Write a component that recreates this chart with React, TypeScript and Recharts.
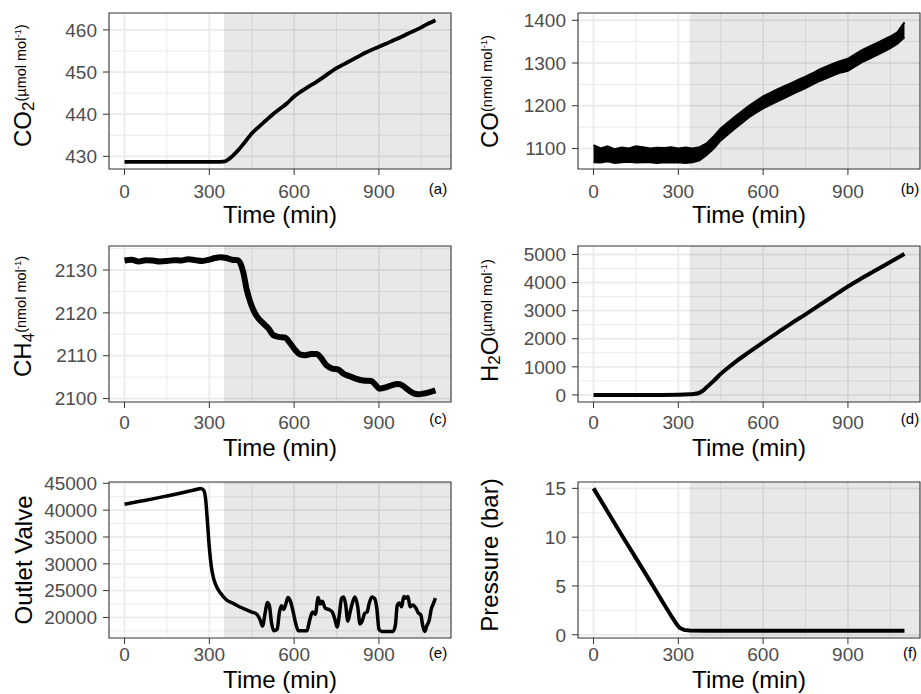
import React from "react";
import {
  ComposedChart,
  Line,
  Area,
  XAxis,
  YAxis,
  CartesianGrid,
  ReferenceArea,
} from "recharts";

const FONT = '"Liberation Sans", Arial, Helvetica, sans-serif';

const timeTicks = [0, 300, 600, 900];
const timeMinor = [150, 450, 750, 1050];
const X_DOMAIN: [number, number] = [-55, 1155];

// (a) CO2, umol/mol
const co2Time = [0, 100, 200, 300, 340, 355, 370, 385, 400, 425, 450, 475, 500, 525, 550, 575, 600, 625, 650, 675, 700, 725, 750, 775, 800, 825, 850, 875, 900, 925, 950, 975, 1000, 1025, 1050, 1075, 1100];
const co2Value = [428.7, 428.7, 428.7, 428.7, 428.7, 428.8, 429.4, 430.3, 431.3, 433.3, 435.4, 437.0, 438.5, 440.0, 441.3, 442.6, 444.2, 445.4, 446.5, 447.5, 448.6, 449.8, 450.9, 451.8, 452.7, 453.6, 454.5, 455.3, 456.0, 456.7, 457.5, 458.2, 459.0, 459.8, 460.6, 461.5, 462.3];

// (b) CO, nmol/mol - scatter band, low / high edge
const coTime = [0, 25, 50, 75, 100, 125, 150, 175, 200, 225, 250, 275, 300, 325, 350, 375, 400, 425, 450, 475, 500, 525, 550, 575, 600, 625, 650, 675, 700, 725, 750, 775, 800, 825, 850, 875, 900, 925, 950, 975, 1000, 1025, 1050, 1075, 1100];
const coLow = [1068, 1067, 1070, 1066, 1068, 1069, 1067, 1068, 1068, 1066, 1068, 1067, 1068, 1066, 1068, 1072, 1085, 1100, 1119, 1133, 1147, 1160, 1173, 1184, 1194, 1202, 1210, 1218, 1226, 1234, 1241, 1250, 1258, 1265, 1272, 1278, 1282, 1292, 1302, 1310, 1318, 1326, 1335, 1345, 1360];
const coHigh = [1108, 1100, 1105, 1098, 1102, 1100, 1105, 1103, 1100, 1102, 1101, 1103, 1100, 1102, 1100, 1103, 1112, 1128, 1147, 1161, 1174, 1187, 1200, 1211, 1222, 1230, 1238, 1246, 1253, 1261, 1268, 1276, 1285, 1292, 1299, 1305, 1310, 1320, 1330, 1338, 1346, 1354, 1362, 1372, 1395];

// (c) CH4, nmol/mol
const ch4Time = [0, 25, 50, 75, 100, 125, 150, 175, 200, 225, 250, 275, 300, 320, 340, 360, 380, 400, 410, 420, 432, 445, 455, 470, 490, 510, 526, 545, 568, 585, 603, 620, 640, 660, 680, 695, 714, 735, 755, 775, 797, 820, 844, 873, 888, 902, 925, 945, 967, 985, 1000, 1020, 1040, 1060, 1080, 1100];
const ch4Value = [2132.2, 2132.4, 2132.0, 2132.3, 2132.2, 2132.0, 2132.1, 2132.3, 2132.2, 2132.5, 2132.3, 2132.1, 2132.4, 2132.8, 2133.0, 2132.8, 2132.4, 2132.3, 2131.5, 2129.5, 2125.5, 2122.5, 2120.8, 2119.0, 2117.6, 2116.3, 2114.8, 2114.4, 2114.2, 2113.0, 2111.4, 2110.3, 2110.1, 2110.4, 2110.4, 2109.5, 2107.8, 2107.0, 2106.8, 2105.8, 2105.2, 2104.6, 2104.2, 2104.1, 2103.2, 2102.3, 2102.6, 2103.1, 2103.4, 2103.0, 2102.2, 2101.3, 2101.0, 2101.2, 2101.5, 2101.9];

// (d) H2O, umol/mol
const h2oTime = [0, 100, 200, 300, 340, 355, 370, 385, 400, 425, 450, 475, 500, 550, 600, 650, 700, 750, 800, 850, 900, 950, 1000, 1050, 1100];
const h2oValue = [0, 0, 0, 5, 20, 35, 60, 140, 270, 500, 750, 960, 1160, 1520, 1870, 2210, 2550, 2870, 3200, 3530, 3860, 4160, 4450, 4730, 5020];

// (e) outlet valve
const valveTime = [0, 50, 100, 150, 200, 250, 270, 280, 287, 293, 300, 307, 315, 325, 340, 360, 385, 410, 432, 450, 468, 480, 488, 498, 505, 512, 520, 528, 540, 548, 555, 562, 570, 578, 587, 596, 605, 615, 630, 645, 655, 665, 675, 685, 692, 700, 710, 722, 735, 745, 752, 760, 768, 775, 782, 790, 798, 805, 815, 825, 833, 840, 850, 858, 865, 875, 885, 893, 900, 910, 930, 950, 958, 965, 972, 980, 988, 995, 1003, 1010, 1020, 1030, 1040, 1048, 1055, 1062, 1070, 1078, 1085, 1092, 1100];
const valveValue = [41100, 41600, 42100, 42650, 43200, 43800, 44050, 43700, 42000, 38000, 33000, 29500, 27300, 25800, 24500, 23300, 22600, 21900, 21400, 21000, 20600, 19500, 18400, 21000, 22800, 22300, 19000, 17500, 17800, 21000, 22200, 21500, 22400, 23700, 23000, 21200, 19000, 17500, 17500, 17500, 19500, 21000, 20600, 23700, 22500, 23000, 21700, 21500, 21000, 19500, 18200, 20500, 23600, 23800, 22500, 19300, 21000, 22500, 23800, 22000, 18800, 19200, 20800, 21000, 22500, 23800, 23500, 21500, 17800, 17400, 17400, 17400, 18500, 22300, 22700, 22000, 23900, 23600, 23900, 22000, 22300, 21800, 20800, 20500, 18500, 17400, 18500, 19500, 21500, 22500, 23600];

// (f) pressure, bar
const pressureTime = [0, 50, 100, 150, 200, 250, 280, 295, 305, 320, 340, 400, 600, 800, 1000, 1100];
const pressureValue = [15.0, 12.6, 10.2, 7.85, 5.5, 3.1, 1.7, 1.05, 0.7, 0.5, 0.43, 0.4, 0.4, 0.4, 0.4, 0.4];

const zip = (ts: number[], vs: number[]) => ts.map((t, i) => ({ t, v: vs[i] }));
const coData = coTime.map((t, i) => ({ t, band: [coLow[i], coHigh[i]] }));

const rot = (x: number, y: number) => `rotate(-90 ${x} ${y})`;

// per-row placement of the x-axis texts (the bottom row sits a bit tighter)
const ROW_TOP = [0, 233, 469];
const ROW_TICK_MARGIN = [10, 8, 4];
const ROW_TITLE_Y = [222.5, 222.5, 218.5];
const ROW_TAG_Y = [194, 191, 189];

function ChemTitle({ x, y, parts, unit }: { x: number; y: number; parts: [string, boolean][]; unit: string }) {
  // parts: [text, isSubscript]
  let shift = 0;
  const spans = parts.map(([s, sub], i) => {
    const dy = sub ? 2.5 - shift : -shift;
    shift = sub ? 2.5 : 0;
    return (
      <tspan key={i} fontSize={sub ? 17 : 24} dy={dy}>
        {s}
      </tspan>
    );
  });
  return (
    <text x={x} y={y} transform={rot(x, y)} fill="#000" fontFamily={FONT} fontSize={24}>
      {spans}
      <tspan fontSize={14.5} dy={-5.5 - shift}>{`(${unit} mol`}</tspan>
      <tspan fontSize={9.5} dy={-5}>-1</tspan>
      <tspan fontSize={14.5} dy={5}>)</tspan>
    </text>
  );
}

type PanelProps = {
  col: number;
  row: number;
  data: any[];
  yDomain: [number, number];
  yTicks: number[];
  yMinor: number[];
  shadeFrom: number;
  tag: string;
  title: React.ReactNode;
  children: React.ReactNode;
};

function Panel({ col, row, data, yDomain, yTicks, yMinor, shadeFrom, tag, title, children }: PanelProps) {
  const left = col === 0 ? 0 : 460;
  const width = col === 0 ? 460 : 461;
  const yAxisWidth = col === 0 ? 109 : 118;
  const marginRight = col === 0 ? 9 : 1;
  const plotCenter = (yAxisWidth + width - marginRight) / 2;
  const tagX = col === 0 ? 438 : 450;

  const xLabel = () => (
    <g>
      <text x={plotCenter} y={ROW_TITLE_Y[row]} textAnchor="middle" fontSize={24} fill="#000" fontFamily={FONT}>
        Time (min)
      </text>
      <text x={tagX} y={ROW_TAG_Y[row]} textAnchor="middle" fontSize={15} fill="#000" fontFamily={FONT}>
        {tag}
      </text>
    </g>
  );

  return (
    <div style={{ position: "absolute", left, top: ROW_TOP[row] }}>
      <ComposedChart
        width={width}
        height={230}
        data={data}
        margin={{ top: 13, right: marginRight, bottom: 0, left: 0 }}
      >
        <CartesianGrid verticalValues={timeMinor} horizontalValues={yMinor} stroke="#EBEBEB" strokeWidth={1} />
        <CartesianGrid verticalValues={timeTicks} horizontalValues={yTicks} stroke="#EBEBEB" strokeWidth={1.8} />
        <XAxis
          type="number"
          dataKey="t"
          domain={X_DOMAIN}
          ticks={timeTicks}
          interval={0}
          allowDataOverflow
          height={61}
          axisLine={false}
          tickLine={{ stroke: "#333333" }}
          tickSize={6}
          tickMargin={ROW_TICK_MARGIN[row]}
          tick={{ fill: "#4D4D4D", fontSize: 19, fontFamily: FONT }}
          label={{ content: xLabel }}
        />
        <YAxis
          type="number"
          domain={yDomain}
          ticks={yTicks}
          interval={0}
          allowDataOverflow
          width={yAxisWidth}
          axisLine={false}
          tickLine={{ stroke: "#333333" }}
          tickSize={6}
          tickMargin={6}
          tick={{ fill: "#4D4D4D", fontSize: 19, fontFamily: FONT }}
          label={{ content: () => title }}
        />
        <ReferenceArea x1={shadeFrom} x2={X_DOMAIN[1]} fill="#000" fillOpacity={0.09} stroke="none" />
        {children}
        <ReferenceArea x1={X_DOMAIN[0]} x2={X_DOMAIN[1]} fill="none" stroke="#333333" strokeWidth={1.1} />
      </ComposedChart>
    </div>
  );
}

export default function App() {
  return (
    <div
      style={{
        position: "absolute",
        left: 0,
        top: 0,
        width: 921,
        height: 694,
        background: "#fff",
        fontFamily: FONT,
        overflow: "hidden",
      }}
    >
      <Panel
        col={0}
        row={0}
        data={zip(co2Time, co2Value)}
        yDomain={[427.0, 464.0]}
        yTicks={[430, 440, 450, 460]}
        yMinor={[435, 445, 455]}
        shadeFrom={352}
        tag="(a)"
        title={<ChemTitle x={31} y={147} parts={[["CO", false], ["2", true]]} unit="µmol" />}
      >
        <Line type="monotone" dataKey="v" stroke="#000" strokeWidth={3.8} dot={false} isAnimationActive={false} />
      </Panel>
      <Panel
        col={1}
        row={0}
        data={coData}
        yDomain={[1052, 1417]}
        yTicks={[1100, 1200, 1300, 1400]}
        yMinor={[1150, 1250, 1350]}
        shadeFrom={340}
        tag="(b)"
        title={<ChemTitle x={37.5} y={148} parts={[["CO", false]]} unit="nmol" />}
      >
        <Area
          type="linear"
          dataKey="band"
          stroke="#000"
          strokeWidth={2}
          fill="#000"
          fillOpacity={1}
          dot={false}
          isAnimationActive={false}
        />
      </Panel>
      <Panel
        col={0}
        row={1}
        data={zip(ch4Time, ch4Value)}
        yDomain={[2099.2, 2135.6]}
        yTicks={[2100, 2110, 2120, 2130]}
        yMinor={[2105, 2115, 2125, 2135]}
        shadeFrom={352}
        tag="(c)"
        title={<ChemTitle x={31} y={144} parts={[["CH", false], ["4", true]]} unit="nmol" />}
      >
        <Line type="monotone" dataKey="v" stroke="#000" strokeWidth={6} dot={false} isAnimationActive={false} />
      </Panel>
      <Panel
        col={1}
        row={1}
        data={zip(h2oTime, h2oValue)}
        yDomain={[-252, 5302]}
        yTicks={[0, 1000, 2000, 3000, 4000, 5000]}
        yMinor={[500, 1500, 2500, 3500, 4500]}
        shadeFrom={340}
        tag="(d)"
        title={<ChemTitle x={37.5} y={149} parts={[["H", false], ["2", true], ["O", false]]} unit="µmol" />}
      >
        <Line type="monotone" dataKey="v" stroke="#000" strokeWidth={4} dot={false} isAnimationActive={false} />
      </Panel>
      <Panel
        col={0}
        row={2}
        data={zip(valveTime, valveValue)}
        yDomain={[16170, 45250]}
        yTicks={[20000, 25000, 30000, 35000, 40000, 45000]}
        yMinor={[17500, 22500, 27500, 32500, 37500, 42500]}
        shadeFrom={352}
        tag="(e)"
        title={
          <text x={31.5} y={91} transform={rot(31.5, 91)} textAnchor="middle" fontSize={24} fill="#000" fontFamily={FONT}>
            Outlet Valve
          </text>
        }
      >
        <Line type="monotone" dataKey="v" stroke="#000" strokeWidth={3.5} dot={false} isAnimationActive={false} />
      </Panel>
      <Panel
        col={1}
        row={2}
        data={zip(pressureTime, pressureValue)}
        yDomain={[-0.33, 15.65]}
        yTicks={[0, 5, 10, 15]}
        yMinor={[2.5, 7.5, 12.5]}
        shadeFrom={340}
        tag="(f)"
        title={
          <text x={38} y={86} transform={rot(38, 86)} textAnchor="middle" fontSize={24} fill="#000" fontFamily={FONT}>
            Pressure (bar)
          </text>
        }
      >
        <Line type="linear" dataKey="v" stroke="#000" strokeWidth={4} dot={false} isAnimationActive={false} />
      </Panel>
    </div>
  );
}
